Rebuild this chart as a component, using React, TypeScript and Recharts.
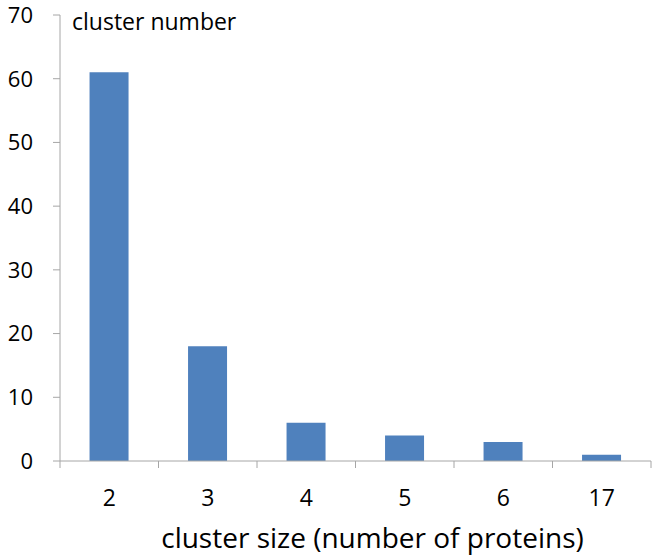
import { BarChart, Bar, XAxis, YAxis } from 'recharts';

const sizes = ['2', '3', '4', '5', '6', '17'];
const counts = [61, 18, 6, 4, 3, 1];
const yTicks = [0, 10, 20, 30, 40, 50, 60, 70];

const data = sizes.map((size, i) => ({ size, count: counts[i] }));

const FONT = '"Open Sans", sans-serif';
const AXIS = '#A6A6A6';

// category label plus a tick mark at each band edge, like the original chart
const SizeTick = (props: any) => {
  const { x, y, payload, index, visibleTicksCount, width } = props;
  const half = payload.offset || width / visibleTicksCount / 2;
  return (
    <g>
      <line x1={x - half} x2={x - half} y1={y} y2={y + 7} stroke={AXIS} />
      {index === visibleTicksCount - 1 && <line x1={x + half} x2={x + half} y1={y} y2={y + 7} stroke={AXIS} />}
      <text x={x} y={y + 45} textAnchor="middle" fontSize={23} fontFamily={FONT} fill="#000">
        {payload.value}
      </text>
    </g>
  );
};

const YTitle = (props: any) => {
  const { viewBox } = props;
  return (
    <text x={viewBox.x + viewBox.width + 12} y={viewBox.y + 15} fontSize={23} fontFamily={FONT} fill="#000">
      cluster number
    </text>
  );
};

const XTitle = (props: any) => {
  const { viewBox } = props;
  return (
    <text x={viewBox.x + viewBox.width / 2 + 17} y={viewBox.y + 87} fontSize={28} fontFamily={FONT} fill="#000" textAnchor="middle">
      cluster size (number of proteins)
    </text>
  );
};

const App = () => {
  return (
    <div style={{ width: 658, height: 560 }}>
      <style>{`body{margin:0}`}</style>
      <BarChart width={658} height={560} data={data} margin={{ top: 15, right: 7, left: 0, bottom: 0 }} barCategoryGap="30%">
        <XAxis
          dataKey="size"
          height={99}
          axisLine={{ stroke: AXIS }}
          tickLine={false}
          tickSize={0}
          tickMargin={0}
          tick={<SizeTick />}
          label={<XTitle />}
        />
        <YAxis
          width={60}
          domain={[0, 70]}
          ticks={yTicks}
          axisLine={{ stroke: AXIS }}
          tickLine={{ stroke: AXIS }}
          tickSize={7}
          tickMargin={20}
          tick={{ fill: '#000', fontSize: 22, fontFamily: FONT }}
          label={<YTitle />}
        />
        <Bar dataKey="count" fill="#4F81BD" isAnimationActive={false} />
      </BarChart>
    </div>
  );
};

export default App;
